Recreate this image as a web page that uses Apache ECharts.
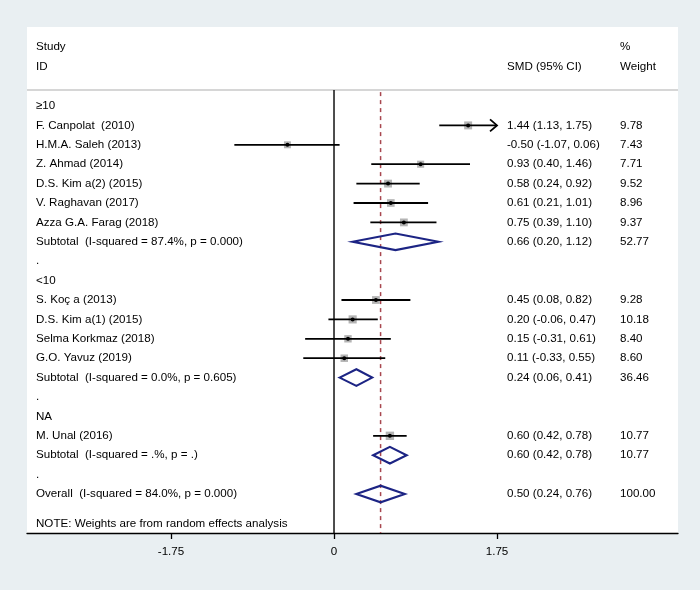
<!DOCTYPE html>
<html>
<head>
<meta charset="utf-8">
<script src="https://cdn.jsdelivr.net/npm/echarts@6/dist/echarts.min.js"></script>
<style>html,body{margin:0;padding:0;background:#e9eff2;}#chart{width:700px;height:590px;}</style>
</head>
<body>
<div id="chart"></div>
<script>
// Row labels (row index = position in list)
const rowLabels = ['≥10','F. Canpolat  (2010)','H.M.A. Saleh (2013)','Z. Ahmad (2014)','D.S. Kim a(2) (2015)','V. Raghavan (2017)','Azza G.A. Farag (2018)','Subtotal  (I-squared = 87.4%, p = 0.000)','.','<10','S. Koç a (2013)','D.S. Kim a(1) (2015)','Selma Korkmaz (2018)','G.O. Yavuz (2019)','Subtotal  (I-squared = 0.0%, p = 0.605)','.','NA','M. Unal (2016)','Subtotal  (I-squared = .%, p = .)','.','Overall  (I-squared = 84.0%, p = 0.000)'];
const noteText = 'NOTE: Weights are from random effects analysis';

// Individual studies
const studyRows = [1,2,3,4,5,6,10,11,12,13,17];
const studySMD  = [1.44,-0.50,0.93,0.58,0.61,0.75,0.45,0.20,0.15,0.11,0.60];
const studyLo   = [1.13,-1.07,0.40,0.24,0.21,0.39,0.08,-0.06,-0.31,-0.33,0.42];
const studyHi   = [1.75,0.06,1.46,0.92,1.01,1.10,0.82,0.47,0.61,0.55,0.78];
const studyWt   = [9.78,7.43,7.71,9.52,8.96,9.37,9.28,10.18,8.40,8.60,10.77];

// Pooled estimates (subtotals + overall)
const poolRows = [7,14,18,20];
const poolSMD  = [0.66,0.24,0.60,0.50];
const poolLo   = [0.20,0.06,0.42,0.24];
const poolHi   = [1.12,0.41,0.78,0.76];
const poolWt   = [52.77,36.46,10.77,100.00];

// Axis ticks
const tickValues = [-1.75, 0, 1.75];
const tickLabels = ['-1.75', '0', '1.75'];
const displayMax = 1.75;

const FONT = '"Liberation Sans", Arial, sans-serif';
const FS = 11.6;
const TXT = '#000000';
const COL_LEFT = 36, COL_SMD = 507, COL_WT = 620;
const ROW_STUDY = -3.04, ROW_ID = -2.01, ROW_HDRLINE = -0.82, ROW_NOTE = 21.55;
const overall = poolSMD[poolSMD.length - 1];

const f2 = v => v.toFixed(2);

const chart = echarts.init(document.getElementById('chart'));

function txt(x, y, s) {
  return {type: 'text', x: x, y: y, style: {text: s, fill: TXT, font: FS + 'px ' + FONT, textVerticalAlign: 'middle', textAlign: 'left'}};
}

const textData = rowLabels.map((l, i) => [0, i, l]);

chart.setOption({
  backgroundColor: '#e9eff2',
  animation: false,
  grid: {left: 27, right: 22, top: 27, bottom: 57, show: true, backgroundColor: '#ffffff', borderWidth: 0},
  xAxis: {
    type: 'value', min: -3.296, max: 3.693,
    axisLine: {show: true, onZero: false, lineStyle: {color: '#000', width: 1.3}},
    axisTick: {show: true, length: 6, lineStyle: {color: '#000', width: 1.3}, customValues: tickValues},
    axisLabel: {customValues: tickValues, margin: 13, color: TXT, fontFamily: FONT, fontSize: 11.6,
      formatter: v => { const k = tickValues.findIndex(t => Math.abs(t - v) < 1e-9); return k >= 0 ? tickLabels[k] : ''; }},
    splitLine: {show: false}
  },
  yAxis: {type: 'value', inverse: true, min: -4.072, max: 22.01, show: false},
  series: [
    { // decorations: header line, null line, overall dashed line
      type: 'custom', clip: false, silent: true,
      data: [[0, 0]],
      renderItem: function (params, api) {
        const cs = params.coordSys;
        const yH = api.coord([0, ROW_HDRLINE])[1];
        const yB = cs.y + cs.height;
        const x0 = api.coord([0, 0])[0];
        const xo = api.coord([overall, 0])[0];
        return {type: 'group', children: [
          {type: 'line', shape: {x1: cs.x, y1: yH, x2: cs.x + cs.width, y2: yH}, style: {stroke: '#c8c8c8', lineWidth: 1.5}},
          {type: 'line', shape: {x1: x0, y1: yH, x2: x0, y2: yB}, style: {stroke: '#000', lineWidth: 1.4}},
          {type: 'line', shape: {x1: xo, y1: yH + 2, x2: xo, y2: yB}, style: {stroke: '#a8474f', lineWidth: 1.5, lineDash: [4, 4]}}
        ]};
      }
    },
    { // text column: headers and row labels
      type: 'custom', clip: false, silent: true,
      data: textData,
      renderItem: function (params, api) {
        const i = params.dataIndex;
        const y = api.coord([0, api.value(1)])[1];
        const ch = [txt(COL_LEFT, y, rowLabels[i])];
        if (i === 0) {
          const ys = api.coord([0, ROW_STUDY])[1], yi = api.coord([0, ROW_ID])[1], yn = api.coord([0, ROW_NOTE])[1];
          ch.push(txt(COL_LEFT, ys, 'Study'), txt(COL_LEFT, yi, 'ID'),
                  txt(COL_SMD, yi, 'SMD (95% CI)'), txt(COL_WT, ys, '%'), txt(COL_WT, yi, 'Weight'),
                  txt(COL_LEFT, yn, noteText));
        }
        return {type: 'group', children: ch};
      }
    },
    { // studies
      type: 'custom', clip: false,
      data: studyRows.map((r, k) => [studySMD[k], r, studyLo[k], studyHi[k], studyWt[k]]),
      renderItem: function (params, api) {
        const est = api.value(0), row = api.value(1), lo = api.value(2), hi = api.value(3), wt = api.value(4);
        const p = api.coord([est, row]);
        const pl = api.coord([lo, row]);
        const ph = api.coord([Math.min(hi, displayMax), row]);
        const s = Math.sqrt(wt) * 2.55;
        const ch = [
          {type: 'rect', shape: {x: p[0] - s / 2, y: p[1] - s / 2, width: s, height: s}, style: {fill: '#b4b4b4'}},
          {type: 'line', shape: {x1: pl[0], y1: pl[1], x2: ph[0], y2: ph[1]}, style: {stroke: '#000', lineWidth: 1.8}},
          {type: 'circle', shape: {cx: p[0], cy: p[1], r: 2}, style: {fill: '#000'}},
          txt(COL_SMD, p[1], f2(est) + ' (' + f2(lo) + ', ' + f2(hi) + ')'),
          txt(COL_WT, p[1], f2(wt))
        ];
        if (hi >= displayMax) {
          ch.push({type: 'polyline', shape: {points: [[ph[0] - 7, ph[1] - 6], [ph[0], ph[1]], [ph[0] - 7, ph[1] + 6]]}, style: {stroke: '#000', lineWidth: 1.8, fill: null}});
        }
        return {type: 'group', children: ch};
      }
    },
    { // pooled diamonds
      type: 'custom', clip: false,
      data: poolRows.map((r, k) => [poolSMD[k], r, poolLo[k], poolHi[k], poolWt[k]]),
      renderItem: function (params, api) {
        const est = api.value(0), row = api.value(1), lo = api.value(2), hi = api.value(3), wt = api.value(4);
        const p = api.coord([est, row]);
        const pl = api.coord([lo, row]);
        const ph = api.coord([hi, row]);
        const h = 8.3;
        return {type: 'group', children: [
          {type: 'polygon', shape: {points: [[pl[0], p[1]], [p[0], p[1] - h], [ph[0], p[1]], [p[0], p[1] + h]]}, style: {stroke: '#1c2484', lineWidth: 2.1, fill: null}},
          txt(COL_SMD, p[1], f2(est) + ' (' + f2(lo) + ', ' + f2(hi) + ')'),
          txt(COL_WT, p[1], f2(wt))
        ]};
      }
    }
  ]
});
</script>
</body>
</html>
